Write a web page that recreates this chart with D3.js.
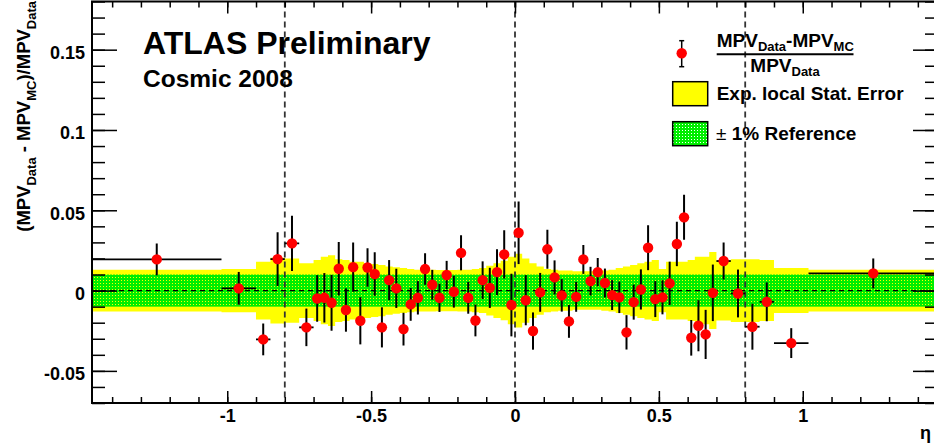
<!DOCTYPE html>
<html><head><meta charset="utf-8">
<script src="https://cdn.jsdelivr.net/npm/d3@7"></script>
<style>
body{margin:0;background:#fff;}
svg{display:block;}
text{font-family:"Liberation Sans",Arial,Helvetica,sans-serif;font-weight:bold;fill:#000;}
</style>
</head><body>
<svg id="c" width="934" height="447"></svg>
<script>
// ---- data ----
const binEdges = [-1.47, -1.02, -0.9, -0.85, -0.8, -0.75, -0.7,
  -0.675, -0.65, -0.625, -0.6, -0.575, -0.55, -0.525, -0.5, -0.475, -0.45,
  -0.425, -0.4, -0.375, -0.35, -0.325, -0.3, -0.275, -0.25, -0.225, -0.2,
  -0.175, -0.15, -0.125, -0.1, -0.075, -0.05, -0.025, 0,
  0.025, 0.05, 0.075, 0.1, 0.125, 0.15, 0.175, 0.2, 0.225, 0.25,
  0.275, 0.3, 0.325, 0.35, 0.375, 0.4, 0.425, 0.45, 0.475, 0.5,
  0.525, 0.55, 0.575, 0.6, 0.625, 0.65, 0.675, 0.7,
  0.75, 0.8, 0.85, 0.9, 1.02, 1.47];

const mpvDiff = [0.0194, 0.0014, -0.0304, 0.0196, 0.0294, -0.0229,
  -0.0049, -0.0045, -0.0076, 0.0136, -0.0121, 0.0146, -0.0188, 0.0144, 0.0103, -0.0229,
  0.0065, 0.0014, -0.024, -0.0086, -0.0045, 0.0134, 0.0036, -0.0045, 0.0097, -0.0007,
  0.0235, -0.0045, -0.0186, 0.0065, 0.0017, 0.0115, 0.0225, -0.009,
  0.036, -0.006, -0.0252, -0.0011, 0.0257, 0.0082, -0.003, -0.0192, -0.0039,
  0.0194, 0.0059, 0.0115, 0.0047, -0.0028, -0.0042, -0.026, -0.0072, 0.0007, 0.0267,
  -0.0053, -0.0042, 0.0045, 0.029, 0.0456, -0.0294, -0.0219, -0.0273, -0.0014,
  0.0184, -0.0018, -0.0225, -0.007, -0.0327, 0.0107];

const statErr = [0.0099, 0.0102, 0.0099, 0.0167, 0.0172, 0.0117,
  0.0145, 0.0154, 0.0174, 0.0166, 0.0135, 0.0153, 0.0147, 0.012, 0.0135, 0.0125,
  0.0125, 0.0122, 0.0102, 0.0102, 0.0104, 0.0098, 0.0093, 0.0088, 0.0088, 0.0099,
  0.0109, 0.0099, 0.0099, 0.0117, 0.0125, 0.0143, 0.015, 0.0195,
  0.0195, 0.0156, 0.0116, 0.0121, 0.0121, 0.0106, 0.0101, 0.0102, 0.0093,
  0.009, 0.0089, 0.0088, 0.009, 0.0093, 0.0098, 0.0107, 0.0109, 0.0125, 0.014,
  0.0112, 0.0106, 0.0135, 0.0138, 0.014, 0.0111, 0.0159, 0.0153, 0.0176,
  0.0115, 0.0149, 0.0143, 0.0121, 0.0093, 0.0093];

const expErr = [0.013, 0.0135, 0.018, 0.0205, 0.020, 0.017,
  0.019, 0.021, 0.022, 0.0195, 0.019, 0.018, 0.018, 0.017, 0.0165, 0.016,
  0.015, 0.0145, 0.014, 0.0135, 0.013, 0.013, 0.013, 0.0128, 0.0128, 0.0128,
  0.013, 0.013, 0.0135, 0.014, 0.0155, 0.017, 0.0185, 0.021,
  0.023, 0.020, 0.017, 0.015, 0.0135, 0.013, 0.0125, 0.0125, 0.012,
  0.012, 0.012, 0.012, 0.0125, 0.013, 0.014, 0.015, 0.016, 0.017, 0.018,
  0.019, 0.0135, 0.018, 0.018, 0.018, 0.019, 0.021, 0.021, 0.024,
  0.0187, 0.0195, 0.0195, 0.019, 0.014, 0.013];

const refBand = 0.01;
const etaLines = [-0.8, 0, 0.8];
const yMajorTicks = [-0.05, 0, 0.05, 0.1, 0.15];
const yTickLabels = ["-0.05", "0", "0.05", "0.1", "0.15"];
const xMajorTicks = [-1, -0.5, 0, 0.5, 1];
const xTickLabels = ["-1", "-0.5", "0", "0.5", "1"];
const legendLabels = ["Exp. local Stat. Error", "1% Reference"];

// ---- layout ----
const svg = d3.select("#c");
const L = 92, R = 938, T = 1.5, B = 403;
const x = d3.scaleLinear().domain([-1.47, 1.47]).range([L, R]);
const y = d3.scaleLinear().domain([-0.07, 0.18]).range([B, T]);

const bins = mpvDiff.map((v, i) => ({
  lo: binEdges[i], hi: binEdges[i + 1],
  c: (binEdges[i] + binEdges[i + 1]) / 2,
  v: v, e: statErr[i], ex: expErr[i]
}));

const defs = svg.append("defs");
const pat = defs.append("pattern").attr("id", "hatch")
  .attr("patternUnits", "userSpaceOnUse").attr("width", 3).attr("height", 3);
pat.append("path").attr("d", "M0,0h3v3h-3z M1,1h1v1h-1z")
  .attr("fill", "#00ee00").attr("fill-rule", "evenodd");
defs.append("clipPath").attr("id", "plotclip").append("rect")
  .attr("x", L).attr("y", T).attr("width", R - L).attr("height", B - T);

const plot = svg.append("g").attr("clip-path", "url(#plotclip)");

// yellow expected stat error band (step)
const stepData = bins.map(b => ({e: b.lo, h: b.ex}));
stepData.push({e: bins[bins.length - 1].hi, h: bins[bins.length - 1].ex});
const band = d3.area().curve(d3.curveStepAfter)
  .x(d => x(d.e)).y0(d => y(-d.h)).y1(d => y(d.h));
plot.append("path").datum(stepData).attr("d", band).attr("fill", "#ffff00");

// green +-1% reference band
plot.append("rect").attr("x", L).attr("width", R - L)
  .attr("y", y(refBand)).attr("height", y(-refBand) - y(refBand))
  .attr("fill", "url(#hatch)");

// vertical dashed lines
plot.selectAll("line.vl").data(etaLines).enter().append("line")
  .attr("x1", d => x(d)).attr("x2", d => x(d)).attr("y1", T).attr("y2", B)
  .attr("stroke", "#333").attr("stroke-width", 1.8).attr("stroke-dasharray", "6,4");

// zero line
plot.append("line").attr("x1", L).attr("x2", R).attr("y1", y(0)).attr("y2", y(0))
  .attr("stroke", "#000").attr("stroke-width", 1.4).attr("stroke-dasharray", "5,4");

// error bars
const pts = plot.append("g");
pts.selectAll("line.h").data(bins).enter().append("line")
  .attr("x1", d => x(d.lo)).attr("x2", d => x(d.hi))
  .attr("y1", d => y(d.v)).attr("y2", d => y(d.v))
  .attr("stroke", "#000").attr("stroke-width", 1.8);
pts.selectAll("line.v").data(bins).enter().append("line")
  .attr("x1", d => x(d.c)).attr("x2", d => x(d.c))
  .attr("y1", d => y(d.v - d.e)).attr("y2", d => y(d.v + d.e))
  .attr("stroke", "#000").attr("stroke-width", 2);
pts.selectAll("circle").data(bins).enter().append("circle")
  .attr("cx", d => x(d.c)).attr("cy", d => y(d.v)).attr("r", 5.2)
  .attr("fill", "#ff0000");

// ---- axes ----
function styleAxis(g) {
  g.select(".domain").remove();
  g.selectAll("line").attr("stroke", "#000").attr("stroke-width", 1.5);
  g.selectAll("text").attr("font-size", 18).attr("font-weight", "bold")
    .attr("font-family", '"Liberation Sans",Arial,sans-serif').attr("fill", "#000");
}
const yMinor = y.ticks(25);
const xMinor = x.ticks(30);

svg.append("g").attr("transform", `translate(${L},0)`)
  .call(d3.axisLeft(y).tickValues(yMinor).tickSize(-13).tickFormat(""))
  .call(styleAxis);
svg.append("g").attr("transform", `translate(${L},0)`)
  .call(d3.axisLeft(y).tickValues(yMajorTicks).tickSize(-25).tickPadding(7)
    .tickFormat(d => yTickLabels[yMajorTicks.indexOf(d)]))
  .call(styleAxis)
  .call(g => g.selectAll("text").attr("dy", "0.5em"));
svg.append("g").attr("transform", `translate(${R},0)`)
  .call(d3.axisRight(y).tickValues(yMinor).tickSize(-13).tickFormat(""))
  .call(styleAxis);
svg.append("g").attr("transform", `translate(${R},0)`)
  .call(d3.axisRight(y).tickValues(yMajorTicks).tickSize(-25).tickFormat(""))
  .call(styleAxis);

svg.append("g").attr("transform", `translate(0,${B})`)
  .call(d3.axisBottom(x).tickValues(xMinor).tickSize(-6).tickFormat(""))
  .call(styleAxis);
svg.append("g").attr("transform", `translate(0,${B})`)
  .call(d3.axisBottom(x).tickValues(xMajorTicks).tickSize(-12).tickPadding(6)
    .tickFormat(d => xTickLabels[xMajorTicks.indexOf(d)]))
  .call(styleAxis);
svg.append("g").attr("transform", `translate(0,${T})`)
  .call(d3.axisTop(x).tickValues(xMinor).tickSize(-6).tickFormat(""))
  .call(styleAxis);
svg.append("g").attr("transform", `translate(0,${T})`)
  .call(d3.axisTop(x).tickValues(xMajorTicks).tickSize(-12).tickFormat(""))
  .call(styleAxis);

svg.append("rect").attr("x", L).attr("y", T).attr("width", R - L).attr("height", B - T)
  .attr("fill", "none").attr("stroke", "#000").attr("stroke-width", 2);

// ---- axis titles ----
const yt = svg.append("text").attr("transform", "translate(29.5,1) rotate(-90)")
  .attr("text-anchor", "end").attr("font-size", 18.5);
yt.append("tspan").text("(MPV");
yt.append("tspan").attr("font-size", 13).attr("dy", 6).text("Data");
yt.append("tspan").attr("dy", -6).text(" - MPV");
yt.append("tspan").attr("font-size", 13).attr("dy", 6).text("MC");
yt.append("tspan").attr("dy", -6).text(")/MPV");
yt.append("tspan").attr("font-size", 13).attr("dy", 6).text("Data");

svg.append("text").attr("x", 920).attr("y", 439).attr("font-size", 18)
  .attr("font-weight", "normal").attr("font-family", '"DejaVu Sans",sans-serif').text("η");

// ---- labels ----
svg.append("text").attr("x", 143).attr("y", 54).attr("font-size", 32).text("ATLAS Preliminary");
svg.append("text").attr("x", 143).attr("y", 86.5).attr("font-size", 24.5).text("Cosmic 2008");

// ---- legend ----
const lg = svg.append("g");
lg.append("line").attr("x1", 681.7).attr("x2", 681.7).attr("y1", 40.7).attr("y2", 66.7)
  .attr("stroke", "#000").attr("stroke-width", 1.5);
lg.append("line").attr("x1", 679.2).attr("x2", 684.2).attr("y1", 40.7).attr("y2", 40.7)
  .attr("stroke", "#000").attr("stroke-width", 1.5);
lg.append("line").attr("x1", 679.2).attr("x2", 684.2).attr("y1", 66.7).attr("y2", 66.7)
  .attr("stroke", "#000").attr("stroke-width", 1.5);
lg.append("circle").attr("cx", 681.7).attr("cy", 53.3).attr("r", 5.2).attr("fill", "#ff0000");

const num = lg.append("text").attr("x", 716.7).attr("y", 46.7).attr("font-size", 19);
num.append("tspan").text("MPV");
num.append("tspan").attr("font-size", 13).attr("dy", 4).text("Data");
num.append("tspan").attr("dy", -4).text("-MPV");
num.append("tspan").attr("font-size", 13).attr("dy", 4).text("MC");
lg.append("line").attr("x1", 716.7).attr("x2", 853.5).attr("y1", 54.3).attr("y2", 54.3)
  .attr("stroke", "#000").attr("stroke-width", 2);
const den = lg.append("text").attr("x", 785).attr("y", 71.7).attr("font-size", 19)
  .attr("text-anchor", "middle");
den.append("tspan").text("MPV");
den.append("tspan").attr("font-size", 13).attr("dy", 4).text("Data");

lg.append("rect").attr("x", 672.7).attr("y", 81.7).attr("width", 35).attr("height", 24)
  .attr("fill", "#ffff00").attr("stroke", "#000").attr("stroke-width", 1.5);
lg.append("text").attr("x", 716.7).attr("y", 100).attr("font-size", 19).text(legendLabels[0]);

lg.append("rect").attr("x", 672.7).attr("y", 121.7).attr("width", 35).attr("height", 24)
  .attr("fill", "#fff").attr("stroke", "none");
lg.append("rect").attr("x", 672.7).attr("y", 121.7).attr("width", 35).attr("height", 24)
  .attr("fill", "url(#hatch)").attr("stroke", "#000").attr("stroke-width", 1.5);
const rt = lg.append("text").attr("x", 716).attr("y", 140).attr("font-size", 19);
rt.append("tspan").attr("font-weight", "normal").text("±");
rt.append("tspan").text(" " + legendLabels[1]);
</script>
</body></html>
